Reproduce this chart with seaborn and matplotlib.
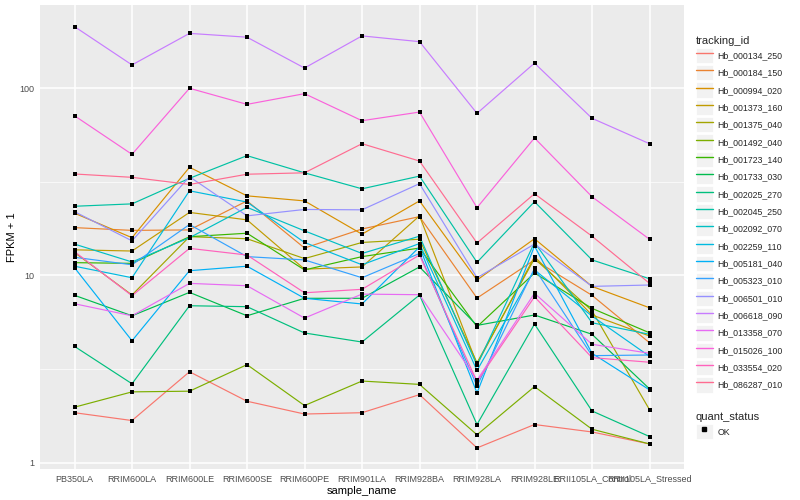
import numpy as np
import pandas as pd
import matplotlib
matplotlib.use("Agg")
import matplotlib.pyplot as plt
import seaborn as sns
from matplotlib.lines import Line2D
from matplotlib.patches import Rectangle
from matplotlib.legend_handler import HandlerLine2D
from matplotlib.ticker import FixedLocator, NullFormatter

samples = ["PB350LA", "RRIM600LA", "RRIM600LE", "RRIM600SE", "RRIM600PE", "RRIM901LA",
           "RRIM928BA", "RRIM928LA", "RRIM928LE", "RRII105LA_Control", "RRII105LA_Stressed"]

tracking_ids = ["Hb_000134_250", "Hb_000184_150", "Hb_000994_020", "Hb_001373_160",
                "Hb_001375_040", "Hb_001492_040", "Hb_001723_140", "Hb_001733_030",
                "Hb_002025_270", "Hb_002045_250", "Hb_002092_070", "Hb_002259_110",
                "Hb_005181_040", "Hb_005323_010", "Hb_006501_010", "Hb_006618_090",
                "Hb_013358_070", "Hb_015026_100", "Hb_033554_020", "Hb_086287_010"]

# FPKM + 1 per sample (same order as samples)
hb_000134_250 = [1.85, 1.68, 3.06, 2.13, 1.82, 1.85, 2.31, 1.20, 1.60, 1.46, 1.26]
hb_000184_150 = [18.0, 17.4, 17.5, 25.0, 14.0, 17.7, 20.6, 7.57, 12.1, 7.83, 4.37]
hb_000994_020 = [21.5, 15.9, 37.8, 26.6, 25.0, 16.6, 25.0, 9.45, 15.7, 8.74, 6.72]
hb_001373_160 = [13.7, 13.5, 21.7, 19.8, 10.8, 11.1, 20.8, 3.36, 12.6, 6.15, 4.75]
hb_001375_040 = [13.25, 7.86, 16.1, 15.7, 12.3, 15.0, 15.6, 3.42, 12.3, 6.48, 1.92]
hb_001492_040 = [1.98, 2.39, 2.41, 3.34, 2.02, 2.73, 2.62, 1.41, 2.55, 1.51, 1.26]
hb_001723_140 = [11.7, 11.6, 16.1, 16.8, 10.7, 12.6, 14.0, 5.32, 10.3, 6.67, 4.94]
hb_001733_030 = [7.83, 6.09, 8.12, 6.09, 7.55, 7.55, 11.1, 5.41, 6.15, 4.85, 2.48]
hb_002025_270 = [4.18, 2.64, 6.89, 6.81, 4.93, 4.41, 7.86, 1.60, 5.50, 1.89, 1.38]
hb_002045_250 = [23.4, 24.1, 33.0, 43.6, 35.3, 29.0, 33.9, 11.75, 24.75, 12.1, 9.60]
hb_002092_070 = [14.7, 11.8, 15.9, 23.1, 17.3, 13.1, 16.2, 3.31, 15.0, 5.59, 4.85]
hb_002259_110 = [11.2, 9.72, 28.3, 24.65, 15.0, 11.4, 14.8, 3.11, 10.7, 6.07, 3.70]
hb_005181_040 = [11.0, 4.48, 10.6, 11.2, 7.55, 7.04, 14.2, 2.36, 14.35, 3.84, 2.45]
hb_005323_010 = [12.5, 11.4, 18.7, 12.6, 12.1, 9.72, 13.1, 2.57, 10.9, 3.73, 3.76]
hb_006501_010 = [21.9, 15.3, 33.65, 20.8, 22.5, 22.4, 30.9, 9.72, 14.7, 8.74, 8.89]
hb_006618_090 = [213, 133, 196, 187, 128, 190, 177, 73.3, 136, 69.0, 50.5]
hb_013358_070 = [7.06, 6.09, 9.07, 8.81, 5.92, 7.95, 7.89, 2.76, 8.03, 4.29, 3.84]
hb_015026_100 = [71.2, 44.3, 99.8, 81.9, 93.4, 67.0, 74.5, 23.0, 54.2, 26.3, 15.6]
hb_033554_020 = [13.4, 7.79, 13.95, 12.85, 8.08, 8.43, 12.85, 2.71, 7.69, 3.64, 3.44]
hb_086287_010 = [34.8, 33.4, 30.6, 34.7, 35.3, 50.5, 40.8, 14.9, 27.3, 16.2, 9.07]

series = [hb_000134_250, hb_000184_150, hb_000994_020, hb_001373_160, hb_001375_040,
          hb_001492_040, hb_001723_140, hb_001733_030, hb_002025_270, hb_002045_250,
          hb_002092_070, hb_002259_110, hb_005181_040, hb_005323_010, hb_006501_010,
          hb_006618_090, hb_013358_070, hb_015026_100, hb_033554_020, hb_086287_010]

colors = ["#F8766D", "#EA8331", "#D89000", "#C09B00", "#A3A500", "#7CAE00", "#39B600",
          "#00BB4E", "#00BF7D", "#00C1A3", "#00BFC4", "#00BAE0", "#00B0F6", "#35A2FF",
          "#9590FF", "#C77CFF", "#E76BF3", "#FA62DB", "#FF62BC", "#FF6C91"]

rows = []
for tid, vals in zip(tracking_ids, series):
    for s, v in zip(samples, vals):
        rows.append({"tracking_id": tid, "sample_name": s, "fpkm1": v, "quant_status": "OK"})
df = pd.DataFrame(rows)

sns.set_theme(style="darkgrid")
plt.rcParams["font.family"] = ["Liberation Sans", "DejaVu Sans"]

fig = plt.figure(figsize=(8, 5), dpi=100)
ax = fig.add_axes([0.05, 0.062, 0.805, 0.928])
ax.set_facecolor("#EBEBEB")

sns.lineplot(data=df, x="sample_name", y="fpkm1", hue="tracking_id", hue_order=tracking_ids,
             palette=colors, estimator=None, sort=False, legend=False, linewidth=0.85, ax=ax)
sns.scatterplot(data=df, x="sample_name", y="fpkm1", color="black", marker="s", s=9,
                linewidth=0, legend=False, ax=ax, zorder=3)

ax.set_yscale("log")
ax.set_ylim(0.926, 277.8)
ax.set_xlim(-0.6, 10.6)
ax.yaxis.set_major_locator(FixedLocator([1, 10, 100]))
ax.set_yticklabels(["1", "10", "100"])
ax.yaxis.set_minor_locator(FixedLocator([10 ** 0.5, 10 ** 1.5, 10 ** 2.5]))
ax.yaxis.set_minor_formatter(NullFormatter())
ax.set_axisbelow(True)
ax.grid(which="major", color="white", linewidth=1.1)
ax.grid(which="minor", axis="y", color="white", linewidth=0.5)
for sp in ax.spines.values():
    sp.set_visible(False)
ax.tick_params(axis="both", which="major", length=2.8, width=0.6, color="#333333",
               labelcolor="#4D4D4D", labelsize=6.5, pad=1.2)
ax.tick_params(axis="y", which="minor", length=0)
ax.set_xlabel("sample_name", fontsize=8, color="black", labelpad=1.5)
ax.set_ylabel("FPKM + 1", fontsize=8, color="black", labelpad=2)


class KeyHandler(HandlerLine2D):
    def create_artists(self, legend, orig_handle, xdescent, ydescent, width, height, fontsize, trans):
        rect = Rectangle((-xdescent, -ydescent), width, height, facecolor="#F2F2F2",
                         edgecolor="white", linewidth=0.6, transform=trans)
        arts = super().create_artists(legend, orig_handle, xdescent, ydescent, width, height,
                                      fontsize, trans)
        return [rect] + list(arts)


handles = [Line2D([0], [0], color=c, linewidth=1.0) for c in colors]
leg1 = fig.legend(handles, tracking_ids, loc="upper left", bbox_to_anchor=(0.862, 0.941),
                  frameon=False, title="tracking_id", fontsize=6.3, title_fontsize=8,
                  handlelength=2.0, handleheight=2.32, labelspacing=0.23, handletextpad=0.45,
                  borderpad=0.2, alignment="left", handler_map={Line2D: KeyHandler()})

ok_handle = [Line2D([0], [0], color="black", marker="s", markersize=2.8, linestyle="none")]
leg2 = fig.legend(ok_handle, ["OK"], loc="upper left", bbox_to_anchor=(0.862, 0.188),
                  frameon=False, title="quant_status", fontsize=6.3, title_fontsize=8,
                  handlelength=2.0, handleheight=2.32, labelspacing=0.23, handletextpad=0.45,
                  borderpad=0.2, alignment="left", handler_map={Line2D: KeyHandler()})

fig.savefig("out.png", dpi=100, facecolor="white")
